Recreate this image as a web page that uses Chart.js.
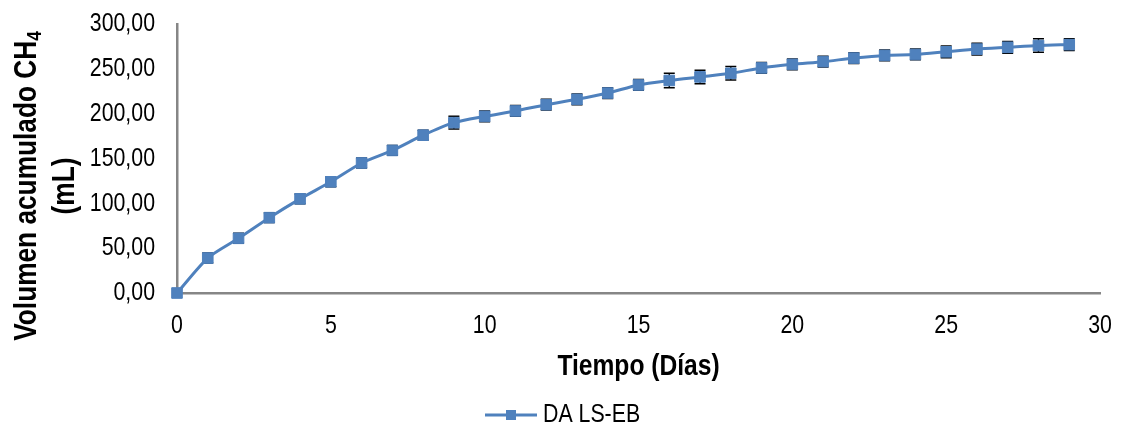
<!DOCTYPE html>
<html>
<head>
<meta charset="utf-8">
<script src="https://cdn.jsdelivr.net/npm/chart.js@4/dist/chart.umd.min.js"></script>
<style>
  body { margin: 0; background: #fff; }
  #wrap { width: 1125px; height: 427px; }
</style>
</head>
<body>
<div id="wrap"><canvas id="chartcanvas" width="1125" height="427"></canvas></div>
<script>
// data
var dias = [0,1,2,3,4,5,6,7,8,9,10,11,12,13,14,15,16,17,18,19,20,21,22,23,24,25,26,27,28,29];
var volumen = [0,39,61,84,105,124,145,159,176,190,197,203,210,216,223,232,237,241,245,251,255,258,262,265,266,269,272,274,276,277];
var errores = [0,5.5,5.5,5.5,5.5,5.5,5.5,5.5,5.5,7,6,6,6,6,6,6,8,7.5,7.5,6,6,6,6,6,6,6.5,6.5,6.5,7.5,6.5];
var yTicks = [0,50,100,150,200,250,300];
var xTicks = [0,5,10,15,20,25,30];
var serieLabel = "DA LS-EB";

// no narrow face installed, so text is squeezed sideways to look like Arial Narrow
var fam = "'Liberation Sans', Arial, sans-serif";
var estrecho = 0.82;
var azul = "#4F81BD";
var gris = "#868686";

var puntos = [];
for (var i = 0; i < dias.length; i++) {
  puntos.push({x: dias[i], y: volumen[i]});
}

function texto(ctx, str, x, y, font, align, rot) {
  ctx.save();
  ctx.translate(x, y);
  if (rot) ctx.rotate(rot);
  ctx.scale(estrecho, 1);
  ctx.font = font;
  ctx.textAlign = align;
  ctx.textBaseline = "middle";
  ctx.fillText(str, 0, 0);
  ctx.restore();
}

// error bars, drawn under the line and markers
var errorBars = {
  id: 'errorBars',
  beforeDatasetsDraw: function(chart) {
    var ctx = chart.ctx;
    var xs = chart.scales.x, ys = chart.scales.y;
    ctx.save();
    ctx.strokeStyle = "#000";
    ctx.lineWidth = 1.5;
    for (var i = 0; i < dias.length; i++) {
      if (!errores[i]) continue;
      var px = xs.getPixelForValue(dias[i]);
      var top = ys.getPixelForValue(volumen[i] + errores[i]);
      var bot = ys.getPixelForValue(volumen[i] - errores[i]);
      ctx.beginPath();
      ctx.moveTo(px, top); ctx.lineTo(px, bot);
      ctx.moveTo(px - 5.5, top); ctx.lineTo(px + 5.5, top);
      ctx.moveTo(px - 5.5, bot); ctx.lineTo(px + 5.5, bot);
      ctx.stroke();
    }
    ctx.restore();
  }
};

// tick labels, axis titles (with subscript) and legend
var textos = {
  id: 'textos',
  afterDraw: function(chart) {
    var ctx = chart.ctx;
    var area = chart.chartArea;
    var xs = chart.scales.x, ys = chart.scales.y;
    ctx.save();
    ctx.fillStyle = "#000";

    yTicks.forEach(function(v) {
      texto(ctx, v.toFixed(2).replace('.', ','), 155, ys.getPixelForValue(v), "26px " + fam, "right");
    });
    xTicks.forEach(function(v) {
      texto(ctx, String(v), xs.getPixelForValue(v), 326, "26px " + fam, "center");
    });

    // y title
    var l1 = "Volumen acumulado CH";
    ctx.font = "bold 32px " + fam;
    var w1 = ctx.measureText(l1).width * estrecho;
    ctx.font = "bold 21px " + fam;
    var w2 = ctx.measureText("4").width * estrecho;
    var start = 186 + (w1 + w2) / 2;
    texto(ctx, l1, 27, start, "bold 32px " + fam, "left", -Math.PI / 2);
    texto(ctx, "4", 35, start - w1, "bold 21px " + fam, "left", -Math.PI / 2);
    texto(ctx, "(mL)", 65, 186, "bold 32px " + fam, "center", -Math.PI / 2);

    // x title
    texto(ctx, "Tiempo (Días)", (area.left + area.right) / 2, 367, "bold 30px " + fam, "center");

    // legend
    var ly = 415;
    ctx.strokeStyle = azul;
    ctx.lineWidth = 3;
    ctx.beginPath();
    ctx.moveTo(485, ly); ctx.lineTo(537, ly);
    ctx.stroke();
    ctx.fillStyle = azul;
    ctx.fillRect(511 - 5, ly - 5, 10, 10);
    ctx.fillStyle = "#000";
    texto(ctx, serieLabel, 543, ly, "26px " + fam, "left");
    ctx.restore();
  }
};

var chart = new Chart(document.getElementById("chartcanvas"), {
  type: 'line',
  data: {
    datasets: [{
      label: serieLabel,
      data: puntos,
      clip: false,
      borderColor: azul,
      backgroundColor: azul,
      borderWidth: 3,
      tension: 0.25,
      pointStyle: 'rect',
      pointRadius: 7.5,
      pointBorderWidth: 1,
      pointBackgroundColor: azul,
      pointBorderColor: azul
    }]
  },
  options: {
    responsive: false,
    animation: false,
    events: [],
    layout: { padding: { left: 0, right: 25, top: 24, bottom: 0 } },
    plugins: {
      legend: { display: false },
      tooltip: { enabled: false }
    },
    scales: {
      x: {
        type: 'linear',
        min: 0, max: 30,
        afterFit: function(scale) { scale.height = 134; },
        afterBuildTicks: function(scale) {
          scale.ticks = xTicks.map(function(v) { return {value: v}; });
        },
        grid: { display: false, drawTicks: false },
        border: { display: true, color: gris, width: 2.5 },
        ticks: { display: false }
      },
      y: {
        min: 0, max: 300,
        afterFit: function(scale) { scale.width = 177; },
        afterBuildTicks: function(scale) {
          scale.ticks = yTicks.map(function(v) { return {value: v}; });
        },
        grid: { display: false, drawTicks: false },
        border: { display: true, color: gris, width: 2.5 },
        ticks: { display: false }
      }
    }
  },
  plugins: [errorBars, textos]
});
</script>
</body>
</html>
